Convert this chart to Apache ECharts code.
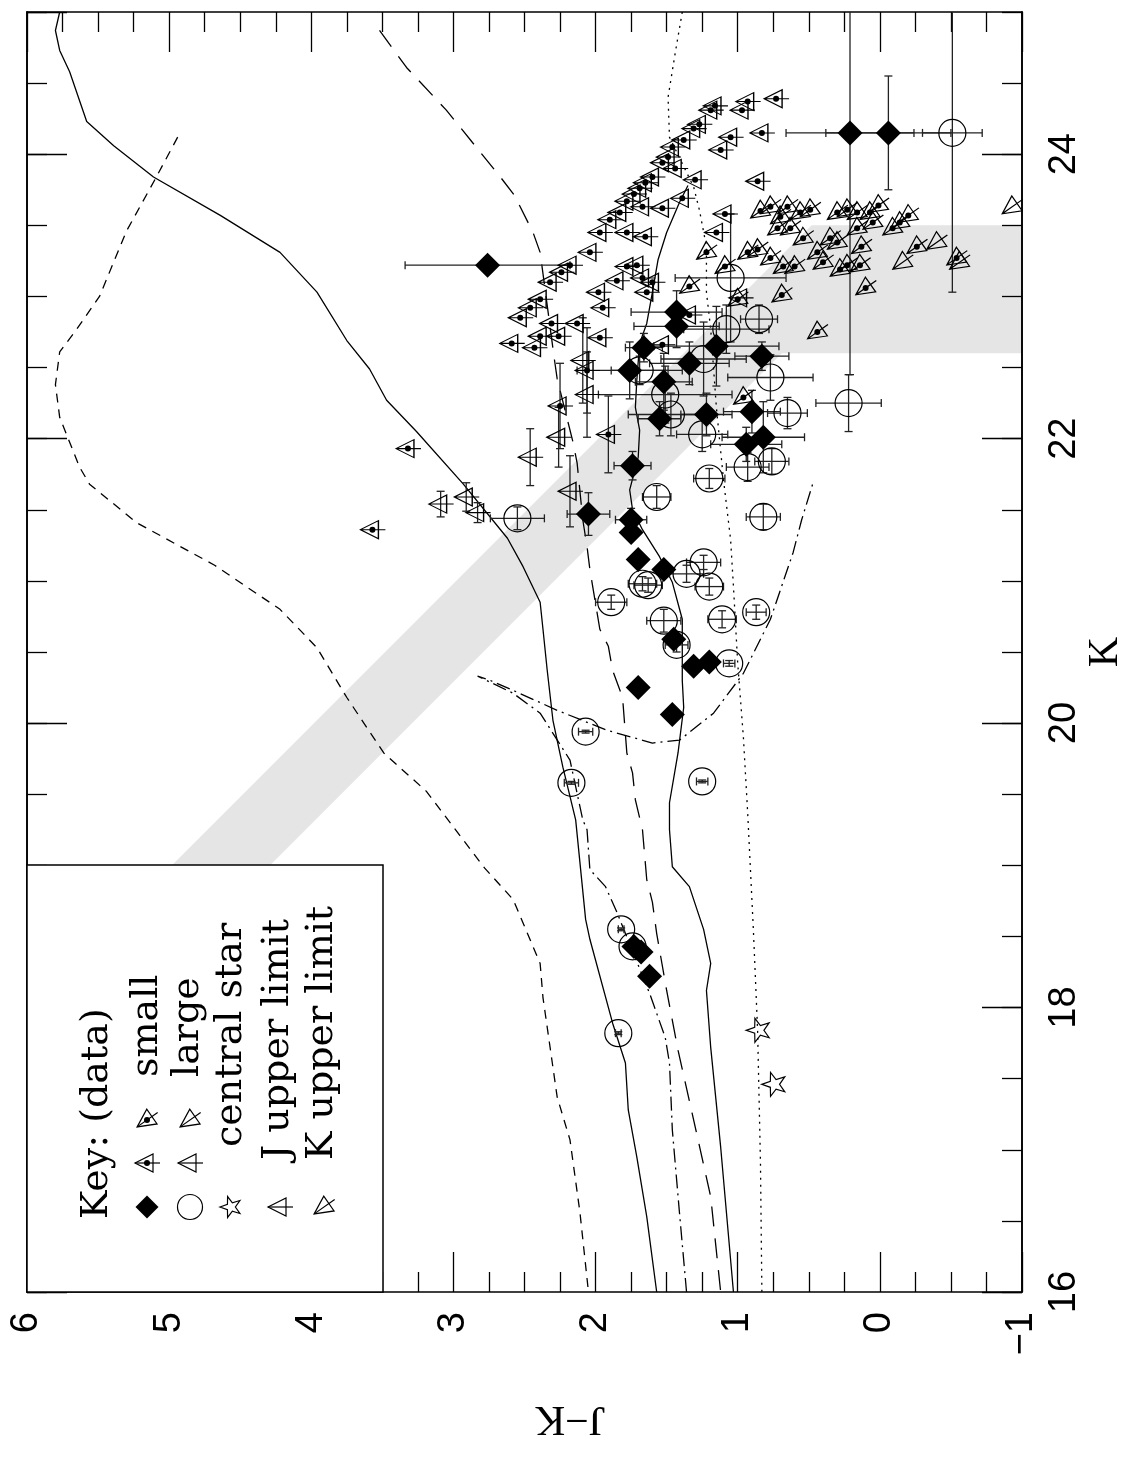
<!DOCTYPE html>
<html>
<head>
<meta charset="utf-8">
<script src="https://cdn.jsdelivr.net/npm/echarts@6/dist/echarts.min.js"></script>
<style>html,body{margin:0;padding:0;background:#fff}#c{width:1139px;height:1458px}</style>
</head>
<body>
<div id="c"></div>
<script>
// ---------------- DATA (x = J−K, y = K) ----------------
// small objects, detected (filled diamonds)
const smallDetJK = [2.76,0.21,-0.06,1.43,1.43,1.66,1.15,1.76,1.34,0.83,1.52,1.55,1.22,0.90,0.82,0.94,1.74,2.05,1.75,1.75,1.70,1.52,1.45,1.31,1.20,1.70,1.46,1.73,1.68,1.62];
const smallDetK  = [23.22,24.15,24.15,22.89,22.79,22.64,22.65,22.48,22.53,22.58,22.40,22.14,22.17,22.19,22.01,21.96,21.81,21.47,21.43,21.34,21.15,21.08,20.59,20.40,20.43,20.25,20.06,18.43,18.39,18.22];
const smallDetErrJK = [0.58,0.45,0.44,0.32,0.30,0.13,0.44,0.37,0.28,0.19,0.20,0.15,0.18,0.20,0.29,0.25,0.13,0.15,0.11,0,0,0,0,0,0,0,0,0,0,0];
const smallDetErrK  = [0.05,1.70,0.40,0.15,0.15,0.10,0.28,0.20,0.15,0.10,0.20,0.12,0.15,0.15,0.25,0.12,0.10,0.15,0.08,0,0,0,0,0,0,0,0,0,0,0];
// large objects, detected (open circles)
const largeDetJK = [-0.51,1.05,1.08,0.85,1.24,1.69,0.77,1.51,1.47,1.25,0.65,0.22,0.76,0.93,1.20,1.57,2.55,0.82,1.24,1.36,1.67,1.63,1.20,1.89,1.52,1.11,0.87,1.43,1.06,2.07,2.17,1.25,1.82,1.74,1.84];
const largeDetK  = [24.15,23.13,22.77,22.84,22.56,22.48,22.43,22.31,22.17,22.03,22.18,22.25,21.84,21.80,21.72,21.59,21.44,21.45,21.13,21.05,20.98,20.97,20.96,20.85,20.72,20.73,20.78,20.55,20.42,19.94,19.58,19.59,18.55,18.43,17.82];
const largeDetErrJK = [0.21,0.39,0.30,0.13,0.30,0.20,0.30,0.47,0.30,0.18,0.14,0.23,0.12,0.15,0.11,0.10,0.19,0.12,0.12,0.12,0.10,0.10,0.10,0.11,0.12,0.10,0.07,0.08,0.04,0.05,0.05,0.04,0.02,0.02,0.02];
const largeDetErrK  = [1.12,0.45,0.17,0.10,0.26,0.10,0.16,0.20,0.15,0.12,0.11,0.20,0.09,0.10,0.07,0.08,0.08,0.09,0.05,0.06,0.05,0.05,0.06,0.05,0.08,0.06,0.05,0.05,0.02,0.01,0.01,0.01,0.01,0.01,0.01];
// central stars
const starJK = [0.86,0.75];
const starK  = [17.84,17.46];
// J upper limits, small objects (triangle with dot)
const jLimSmallJK = [1.16,1.19,0.93,0.97,0.73,1.27,1.31,1.38,1.05,0.83,1.12,1.46,1.49,1.53,1.44,1.30,0.86,1.60,1.65,1.69,1.73,1.39,1.78,1.67,1.53,1.09,1.83,1.90,1.97,1.78,1.65,1.15,2.04,2.18,2.24,1.78,1.71,1.85,1.67,2.32,1.60,2.39,2.46,2.53,1.98,1.64,1.95,2.31,2.13,2.26,2.39,2.59,2.43,1.97,1.53,2.25,3.32,3.57,2.06,1.91,1.34];
const jLimSmallK  = [24.34,24.31,24.37,24.31,24.39,24.21,24.18,24.10,24.12,24.15,24.03,24.05,23.98,23.94,23.90,23.82,23.81,23.84,23.80,23.76,23.72,23.69,23.67,23.63,23.62,23.58,23.59,23.54,23.45,23.45,23.42,23.45,23.31,23.22,23.17,23.21,23.22,23.11,23.13,23.10,23.10,22.98,22.92,22.85,23.03,23.03,22.92,22.81,22.81,22.72,22.72,22.67,22.64,22.71,22.66,22.23,21.93,21.36,22.48,22.03,22.87];
const jLimSmallErrK = [0,0,0,0,0,0,0,0,0,0,0,0,0,0,0,0,0,0,0,0,0,0,0,0,0,0,0,0,0,0,0,0,0,0,0,0,0,0,0,0,0,0,0,0,0,0,0,0,0,0,0,0,0,0,0,0.30,0,0,0.30,0.27,0];
// J upper limits, large objects (triangle, no dot)
const jLimLargeJK = [3.09,2.91,2.83,2.46,2.26,2.18,2.06,2.09,0.98];
const jLimLargeK  = [21.54,21.59,21.48,21.87,22.01,21.63,22.31,22.55,22.99];
const jLimLargeErrK = [0.09,0.10,0.07,0.20,0.21,0.25,0.30,0.30,0];
// K upper limits, small objects
const kLimSmallJK = [0.84,0.77,0.70,0.65,0.56,0.49,0.72,0.63,0.54,0.30,0.23,0.16,0.07,0.01,0.16,0.05,-0.09,-0.14,-0.20,0.35,0.30,0.13,0.44,0.40,0.28,0.23,0.14,0.93,0.86,0.77,0.68,0.60,-0.26,-0.54,0.10,0.69,0.44,0.96,1.34,1.22,1.00,1.09];
const kLimSmallK  = [23.60,23.63,23.56,23.63,23.59,23.61,23.48,23.48,23.41,23.59,23.61,23.59,23.59,23.64,23.48,23.52,23.48,23.52,23.57,23.41,23.38,23.35,23.31,23.24,23.19,23.22,23.22,23.31,23.33,23.27,23.21,23.21,23.35,23.27,23.06,23.01,22.75,22.29,23.07,23.31,22.98,23.21];
// K upper limits, large objects
const kLimLargeJK = [-0.16,-0.40,-0.93,-0.56];
const kLimLargeK  = [23.24,23.38,23.63,23.24];
// model curves
const solidAJK = [5.77,5.80,5.77,5.70,5.58,5.39,5.11,4.64,4.22,3.96,3.75,3.59,3.47,3.26,2.93,2.62,2.51,2.39,2.37,2.34,2.30,2.23,2.14,2.07,2.04,1.88,1.79,1.77,1.71,1.64,1.57];
const solidAK  = [25.0,24.87,24.73,24.58,24.23,24.06,23.84,23.57,23.31,23.03,22.69,22.49,22.27,22.05,21.68,21.30,21.10,20.85,20.66,20.37,20.02,19.69,19.32,18.62,18.48,17.89,17.61,17.28,16.95,16.53,16.0];
const solidBJK = [1.35,1.41,1.50,1.56,1.60,1.64,1.69,1.71,1.72,1.69,1.70,1.76,1.74,1.67,1.55,1.46,1.39,1.39,1.38,1.42,1.48,1.48,1.46,1.34,1.24,1.19,1.22,1.19,1.12,1.03];
const solidBK  = [23.78,23.66,23.45,23.26,23.03,22.81,22.67,22.41,22.22,22.06,21.87,21.64,21.50,21.36,21.17,20.99,20.73,20.30,20.11,19.79,19.44,19.25,18.99,18.85,18.55,18.31,18.12,17.72,17.02,16.0];
const shortDashJK = [4.94,5.09,5.30,5.49,5.65,5.77,5.80,5.77,5.63,5.56,5.23,4.68,4.22,3.96,3.75,3.49,3.19,2.78,2.58,2.39,2.37,2.27,2.18,2.11,2.05];
const shortDashK  = [24.12,23.84,23.46,23.00,22.77,22.61,22.38,22.15,21.80,21.68,21.41,21.11,20.80,20.53,20.18,19.79,19.52,18.98,18.76,18.31,18.07,17.37,17.07,16.56,16.0];
const longDashJK = [3.52,3.33,3.05,2.67,2.57,2.44,2.39,2.29,2.27,2.16,2.13,2.09,2.06,2.04,1.97,1.91,1.88,1.81,1.78,1.74,1.72,1.67,1.64,1.60,1.57,1.50,1.42,1.29,1.19,1.12];
const longDashK  = [24.87,24.61,24.31,23.84,23.71,23.45,23.31,22.56,22.42,21.98,21.83,21.43,21.24,21.08,20.66,20.54,20.37,20.18,19.79,19.65,19.46,19.25,18.90,18.74,18.52,18.12,17.70,17.12,16.67,16.0];
const dashDotJK = [1.36,1.41,1.46,1.48,1.51,1.62,1.85,1.93,2.04,2.06,2.09,2.18,2.39,2.58,2.83,2.74,2.58,2.27,1.92,1.60,1.41,1.17,0.96,0.77,0.61,0.55,0.47];
const dashDotK  = [16.0,16.56,17.14,17.61,17.79,18.10,18.67,18.85,18.97,19.25,19.32,19.74,20.07,20.21,20.33,20.30,20.23,20.09,19.95,19.86,19.88,20.07,20.35,20.73,21.20,21.43,21.69];
const dottedJK = [1.39,1.44,1.49,1.48,1.31,1.27,1.22,1.22,1.19,1.15,1.10,1.05,1.03,1.00,0.96,0.93,0.89,0.86,0.84,0.83];
const dottedK  = [25.0,24.71,24.40,24.12,23.77,23.61,23.35,23.03,22.77,22.22,21.71,21.29,20.96,20.42,19.90,19.37,18.55,17.84,16.91,16.0];
// shaded band
const bandJK = [4.98,0.48,-1,-1,0.69,4.29];
const bandK  = [19.0,23.5,23.5,22.6,22.6,19.0];
// axes
const jkMin = -1, jkMax = 6, kMin = 16, kMax = 25;

// ---------------- helpers ----------------
const pairs = (a,b) => a.map((v,i)=>[v,b[i]]);
const rows = (a,b,c,d) => a.map((v,i)=>[v,b[i],c?c[i]:0,d?d[i]:0]);
// J-limit glyph: triangle pointing left + horizontal stroke
const jPathRaw = 'M-12,0L6,-9L6,9ZM-12,0L13,0';
const jPts = [[-12,0],[6,-9],[6,9]], jLine = [[-12,0],[13,0]];
// K-limit glyph: same glyph turned so it points down-left
const kPts = [[-9.83,6.88],[-0.25,-10.81],[10.07,3.93]], kLine = [[-9.83,6.88],[10.65,-7.46]];
const kPathRaw = 'M'+kPts.map(p=>p.join(',')).join('L')+'ZM'+kLine.map(p=>p.join(',')).join('L');
const starPts = [[-10,0],[-3.24,-2.35],[-3.09,-9.51],[1.24,-3.8],[8.09,-5.88],[4,0],[8.09,5.88],[1.24,3.8],[-3.09,9.51],[-3.24,2.35]];
const starRaw = 'M'+starPts.map(p=>p.join(',')).join('L')+'Z';
const openStyle = {color:'rgba(0,0,0,0)', borderColor:'#000', borderWidth:1.2, opacity:1};

function errRender(params, api){
  const x=api.value(0), y=api.value(1), ex=api.value(2), ey=api.value(3);
  const ch=[]; const cap=4; const st={stroke:'#222', lineWidth:1.3};
  if(ex>0){
    const lo=Math.max(jkMin,x-ex), hi=Math.min(jkMax,x+ex);
    const a=api.coord([lo,y]), b=api.coord([hi,y]);
    ch.push({type:'line',shape:{x1:a[0],y1:a[1],x2:b[0],y2:b[1]},style:st});
    if(lo===x-ex) ch.push({type:'line',shape:{x1:a[0],y1:a[1]-cap,x2:a[0],y2:a[1]+cap},style:st});
    if(hi===x+ex) ch.push({type:'line',shape:{x1:b[0],y1:b[1]-cap,x2:b[0],y2:b[1]+cap},style:st});
  }
  if(ey>0){
    const lo=Math.max(kMin,y-ey), hi=Math.min(kMax,y+ey);
    const a=api.coord([x,lo]), b=api.coord([x,hi]);
    ch.push({type:'line',shape:{x1:a[0],y1:a[1],x2:b[0],y2:b[1]},style:st});
    if(lo===y-ey) ch.push({type:'line',shape:{x1:a[0]-cap,y1:a[1],x2:a[0]+cap,y2:a[1]},style:st});
    if(hi===y+ey) ch.push({type:'line',shape:{x1:b[0]-cap,y1:b[1],x2:b[0]+cap,y2:b[1]},style:st});
  }
  return {type:'group', children:ch};
}

function curve(jk,k,type){
  return {type:'line', data:pairs(jk,k), showSymbol:false, symbol:'none', z:2, silent:true, clip:true,
    lineStyle:{color:'#000', width:1.3, type:type}};
}

const fontSans = '"Liberation Sans", Arial, sans-serif';
const fontSerif = '"DejaVu Serif", "Liberation Serif", serif';

function xAx(pos, labels){
  return {type:'value', min:jkMin, max:jkMax, interval:1, inverse:true, position:pos,
    axisLine:{show:true, onZero:false, lineStyle:{color:'#000', width:1.6}},
    axisTick:{show:true, inside:true, length:40, lineStyle:{color:'#000', width:1.3}},
    minorTick:{show:true, splitNumber:4, length:20, lineStyle:{color:'#000', width:1.3}},
    splitLine:{show:false}, minorSplitLine:{show:false},
    axisLabel:{show:labels, rotate:90, margin:20, fontSize:38, fontFamily:fontSans, color:'#000',
      formatter:v=> v<0 ? '\u2212'+(-v) : String(v)}};
}
function yAx(pos, interval, len, labels){
  return {type:'value', min:kMin, max:kMax, interval:interval, position:pos,
    axisLine:{show:true, onZero:false, lineStyle:{color:'#000', width:1.6}},
    axisTick:{show:true, inside:true, length:len, lineStyle:{color:'#000', width:1.3}},
    splitLine:{show:false},
    axisLabel:{show:labels, rotate:90, margin:24, fontSize:38, fontFamily:fontSans, color:'#000',
      showMaxLabel:false, formatter:v=> (v%2===0 ? String(v) : '')}};
}

// legend (graphic)
const lineSt = {stroke:'#000', lineWidth:1.2, fill:'none'};
function txt(t,x,y){
  return {type:'text', x:x, y:y, rotation:Math.PI/2, z:102,
    style:{text:t, font:'38px '+fontSerif, fill:'#000', textAlign:'left', textVerticalAlign:'middle', align:'left', verticalAlign:'middle'}};
}
function glyph(pts, ln, cx, cy){
  return [
    {type:'polygon', z:102, shape:{points:pts.map(p=>[cx+p[0],cy+p[1]])}, style:lineSt},
    {type:'line', z:102, shape:{x1:cx+ln[0][0],y1:cy+ln[0][1],x2:cx+ln[1][0],y2:cy+ln[1][1]}, style:lineSt}
  ];
}
const jLeg = (cx,cy)=>glyph(jPts,jLine,cx,cy);
const kLeg = (cx,cy)=>glyph(kPts,kLine,cx,cy);
function dot(cx,cy){ return {type:'circle', z:103, shape:{cx:cx, cy:cy, r:3}, style:{fill:'#000'}}; }

const legendEls = [].concat(
  [{type:'rect', z:100, shape:{x:27, y:865, width:356, height:427}, style:{fill:'#fff', stroke:'#000', lineWidth:1.5}},
   txt('Key: (data)', 97, 1219),
   {type:'polygon', z:102, shape:{points:[[147,1195.5],[158.5,1207],[147,1218.5],[135.5,1207]]}, style:{fill:'#000'}}],
  jLeg(147,1163), [dot(147,1163)],
  kLeg(147,1120), [dot(147,1120)],
  [txt('small', 147, 1077),
   {type:'circle', z:102, shape:{cx:190, cy:1207, r:12.5}, style:lineSt}],
  jLeg(190,1163), kLeg(190,1120),
  [txt('large', 188, 1077),
   {type:'polygon', z:102, shape:{points:starPts.map(p=>[231+p[0]*1.1, 1207+p[1]*1.1])}, style:lineSt},
   txt('central star', 231, 1147)],
  jLeg(280,1207),
  [txt('J upper limit', 278, 1160)],
  kLeg(324,1207),
  [txt('K upper limit', 322, 1160),
   {type:'text', x:1106, y:652, rotation:Math.PI/2, z:102,
    style:{text:'K', font:'42px "Liberation Serif", serif', fill:'#000', textAlign:'center', textVerticalAlign:'middle', align:'center', verticalAlign:'middle'}},
   {type:'text', x:570, y:1418, rotation:Math.PI, z:102,
    style:{text:'J\u2212K', font:'42px "Liberation Serif", serif', fill:'#000', textAlign:'center', textVerticalAlign:'middle', align:'center', verticalAlign:'middle'}}]
);

const chart = echarts.init(document.getElementById('c'), null, {renderer:'canvas'});
chart.setOption({
  animation:false,
  backgroundColor:'#fff',
  grid:{left:27, right:117, top:12, bottom:166, containLabel:false},
  xAxis:[xAx('bottom', true), xAx('top', false)],
  yAxis:[yAx('right', 2, 40, true), yAx('right', 0.5, 20, false), yAx('left', 2, 40, false), yAx('left', 0.5, 20, false)],
  graphic:{elements:legendEls},
  series:[
    {type:'custom', z:0, silent:true, clip:true, data:pairs(bandJK,bandK), encode:{x:0,y:1},
      renderItem:(params, api)=>{
        if(params.dataIndex!==0) return null;
        const pts = bandJK.map((v,i)=>api.coord([v,bandK[i]]));
        return {type:'polygon', shape:{points:pts}, style:{fill:'#e5e5e5'}};
      }},
    curve(solidAJK, solidAK, 'solid'),
    curve(solidBJK, solidBK, 'solid'),
    curve(shortDashJK, shortDashK, [9,7]),
    curve(longDashJK, longDashK, [20,12]),
    curve(dashDotJK, dashDotK, [14,5,2,5]),
    curve(dottedJK, dottedK, [2,5]),
    {type:'custom', z:3, silent:true, clip:true, renderItem:errRender, encode:{x:0,y:1},
      data:[].concat(rows(smallDetJK,smallDetK,smallDetErrJK,smallDetErrK),
                     rows(largeDetJK,largeDetK,largeDetErrJK,largeDetErrK),
                     rows(jLimSmallJK,jLimSmallK,null,jLimSmallErrK),
                     rows(jLimLargeJK,jLimLargeK,null,jLimLargeErrK))},
    {type:'scatter', name:'J limit small', z:4, silent:true, data:pairs(jLimSmallJK,jLimSmallK),
      symbol:'path://'+jPathRaw, symbolSize:[25,18], symbolOffset:[0.5,0], itemStyle:openStyle},
    {type:'scatter', name:'J limit large', z:4, silent:true, data:pairs(jLimLargeJK,jLimLargeK),
      symbol:'path://'+jPathRaw, symbolSize:[25,18], symbolOffset:[0.5,0], itemStyle:openStyle},
    {type:'scatter', name:'K limit small', z:4, silent:true, data:pairs(kLimSmallJK,kLimSmallK),
      symbol:'path://'+kPathRaw, symbolSize:[20.48,17.69], symbolOffset:[0.41,-1.96], itemStyle:openStyle},
    {type:'scatter', name:'K limit large', z:4, silent:true, data:pairs(kLimLargeJK,kLimLargeK),
      symbol:'path://'+kPathRaw, symbolSize:[20.48,17.69], symbolOffset:[0.41,-1.96], itemStyle:openStyle},
    {type:'scatter', name:'small dots', z:5, silent:true, data:pairs(jLimSmallJK,jLimSmallK).concat(pairs(kLimSmallJK,kLimSmallK)),
      symbol:'circle', symbolSize:6, itemStyle:{color:'#000', opacity:1}},
    {type:'scatter', name:'large', z:4, silent:true, data:pairs(largeDetJK,largeDetK),
      symbol:'circle', symbolSize:27, itemStyle:openStyle},
    {type:'scatter', name:'small', z:5, silent:true, data:pairs(smallDetJK,smallDetK),
      symbol:'diamond', symbolSize:25, itemStyle:{color:'#000', opacity:1}},
    {type:'scatter', name:'central star', z:4, silent:true, data:pairs(starJK,starK),
      symbol:'path://'+starRaw, symbolSize:[23,24], itemStyle:openStyle}
  ]
});
</script>
</body>
</html>
